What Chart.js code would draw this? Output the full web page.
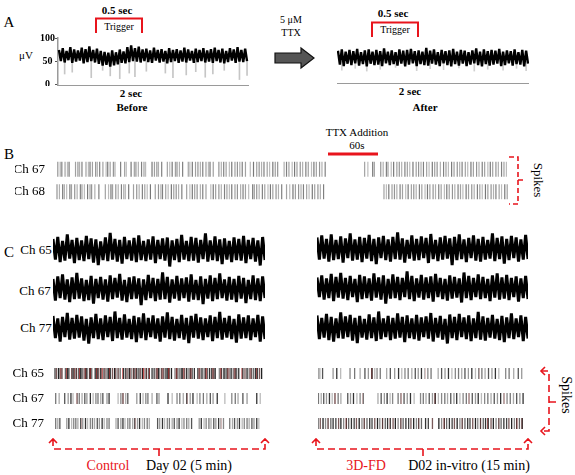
<!DOCTYPE html>
<html>
<head>
<meta charset="utf-8">
<script src="https://cdn.jsdelivr.net/npm/chart.js@4"></script>
<style>
  body { margin:0; width:575px; height:475px; background:#fff; position:relative; overflow:hidden;
         font-family:"Liberation Serif","Times New Roman",serif; color:#000; }
  .box { position:absolute; }
  .t { position:absolute; line-height:1; white-space:nowrap; transform:translate(-50%,-50%); }
  .b { font-weight:bold; }
  .red { color:#e8141c; }
  .rot { transform:translate(-50%,-50%) rotate(90deg); }
  svg { position:absolute; left:0; top:0; z-index:5; }
</style>
</head>
<body>

<!-- text -->
<div class="t" style="left:9px;top:22px;font-size:15px">A</div>
<div class="t b" style="left:117px;top:10px;font-size:11px">0.5 sec</div>
<div class="t" style="left:119px;top:27px;font-size:10px">Trigger</div>
<div class="t" style="left:26px;top:55px;font-size:11px">μV</div>
<div class="t b" style="left:131px;top:93px;font-size:11px">2 sec</div>
<div class="t b" style="left:132px;top:107px;font-size:11px">Before</div>
<div class="t" style="left:291px;top:20px;font-size:10px">5 μM</div>
<div class="t" style="left:291px;top:33px;font-size:10px">TTX</div>
<div class="t b" style="left:393px;top:13px;font-size:11px">0.5 sec</div>
<div class="t" style="left:395px;top:30px;font-size:10px">Trigger</div>
<div class="t b" style="left:410px;top:91px;font-size:11px">2 sec</div>
<div class="t b" style="left:425px;top:107px;font-size:11px">After</div>

<div class="t" style="left:9px;top:154px;font-size:15px">B</div>
<div class="t" style="left:357px;top:132px;font-size:11px">TTX Addition</div>
<div class="t" style="left:357px;top:145px;font-size:11px">60s</div>
<div class="t rot" style="left:538px;top:180px;font-size:13px">Spikes</div>

<div class="t" style="left:9px;top:252px;font-size:15px">C</div>
<div class="t" style="left:36px;top:249px;font-size:13px">Ch 65</div>
<div class="t" style="left:35px;top:290px;font-size:13px">Ch 67</div>
<div class="t" style="left:36px;top:327px;font-size:13px">Ch 77</div>
<div class="t rot" style="left:566px;top:395px;font-size:14px">Spikes</div>

<div class="t red" style="left:108px;top:466px;font-size:14px">Control</div>
<div class="t" style="left:189px;top:466px;font-size:14px">Day 02 (5 min)</div>
<div class="t red" style="left:366px;top:466px;font-size:14px">3D-FD</div>
<div class="t" style="left:469px;top:466px;font-size:14px">D02 in-vitro (15 min)</div>

<!-- brackets, arrow -->
<svg width="575" height="475">
  <path d="M96,33 V18.5 H142 V33" fill="none" stroke="#e8141c" stroke-width="2"/>
  <path d="M372,37 V22.5 H418 V37" fill="none" stroke="#e8141c" stroke-width="2"/>
  <polygon points="275,53 301,53 301,48 314,58 301,68 301,63 275,63" fill="#555" stroke="#111" stroke-width="1.2"/>
  <line x1="328" y1="154" x2="378" y2="154" stroke="#e8141c" stroke-width="3"/>
  <g fill="none" stroke="#e8141c" stroke-width="1.6">
    <path d="M509,157 H518 V204 H509 M518,180 H524" stroke-dasharray="5,3"/>
    <!-- C bottom left -->
    <path d="M49,443 L53,439 L57,443 M261,443 L265,439 L269,443"/>
    <path d="M53,439 V449 H265 V439 M159,449 V456" stroke-dasharray="7,4"/>
    <!-- C bottom right -->
    <path d="M312,443 L316,439 L320,443 M524,443 L528,439 L532,443"/>
    <path d="M316,439 V449 H528 V439 M423,449 V456" stroke-dasharray="7,4"/>
    <!-- C right vertical -->
    <path d="M545,367 L541,371 L545,375 M545,427 L541,431 L545,435"/>
    <path d="M541,371 H549 V431 H541 M549,402 H556" stroke-dasharray="7,4"/>
  </g>
</svg>

<script>
// ====================== DATA ======================
// Panel A: 2 s recordings (uV), zigzag noise samples read from the band
const aTicks = [0, 50, 100];
const aBefore = [
  74,50,78,47,72,52,80,46,75,49,
  73,51,79,45,76,48,82,50,74,47,
  77,44,72,40,70,42,68,38,73,41,
  69,43,75,46,71,45,80,48,84,50,
  78,49,81,47,75,50,77,48,73,46,
  79,51,74,47,76,49,72,45,78,48,
  74,50,76,46,73,49,79,47,75,51,
  72,46,77,48,74,50,78,47,73,49,
  76,46,79,50,74,47,77,45,72,48,
  78,51,75,46,80,49,74,48,77,50
];
const aBeforeDropIdx = [3,7,17,23,27,32,37,40,46,56,60,67,72,77,81,87,95,99];
const aBeforeDropLow = [22,26,14,30,18,12,24,16,28,24,14,20,27,15,22,30,10,19];

const aAfter = [
  68,38,71,35,66,40,70,37,67,41,
  72,36,65,39,69,34,71,40,66,37,
  70,38,67,35,73,41,66,37,69,39,
  65,36,71,40,68,34,70,38,72,41,
  67,35,69,39,66,37,74,36,68,40,
  71,38,65,35,70,41,67,37,69,34,
  72,39,66,36,70,40,68,35,65,38,
  69,41,73,37,66,34,71,39,67,36,
  70,38,68,40,72,35,66,37,69,41,
  67,36,71,39,65,38,70,34,68,40
];
const aAfterDropIdx = [2,9,15,22,30,41,48,55,63,71,78,86,93,98];
const aAfterDropLow = [26,30,24,28,32,25,29,27,31,24,28,26,30,25];

// Panel B: spike times (s), TTX added around 335-400 s
const bRows = ["Ch 67", "Ch 68"];
const b67 = [1,4,6,10,13,15,23,26,28,31,36,39,41,44,48,50,53,57,61,63,66,70,72,79,84,86,92,96,98,101,
  105,108,110,118,121,124,126,130,137,140,143,147,149,152,156,163,165,168,172,175,178,181,185,188,190,
  194,201,204,207,210,214,217,221,224,227,230,234,240,244,248,251,254,257,261,264,268,271,274,282,285,
  288,292,295,298,302,305,309,312,316,319,322,326,329,333,
  382,386,392,394,
  402,405,409,411,415,418,422,425,428,432,435,438,442,446,449,452,455,459,462,466,469,472,476,480,483,
  486,490,493,497,500,503,507,510,514,517,521,524,528,531,535,538,541,545,548,552,555,558];
const b68 = [0,3,7,9,12,16,18,22,25,29,31,34,38,41,43,47,52,60,64,67,69,73,76,80,83,85,89,95,99,102,
  106,109,112,116,122,126,129,131,135,138,142,145,148,151,155,161,165,168,171,174,178,181,185,191,194,
  197,201,204,208,211,214,217,221,224,228,231,234,238,243,245,248,251,255,258,262,265,268,272,275,279,
  285,289,293,296,300,303,306,310,313,317,320,324,327,331,
  406,409,412,416,419,422,426,429,433,436,440,443,446,450,453,457,460,463,467,470,474,477,481,484,487,
  491,494,498,501,504,508,511,515,518,522,525,528,532,535,539,542,545,549,552,556,559];

// Panel C: raw traces (uV)
const c65L = [
  22,-19,26,-24,18,-21,31,-17,20,-26, 24,-20,19,-22,28,-18,23,-25,21,-30,
  17,-20,25,-22,34,-19,22,-23,20,-27, 26,-18,19,-21,24,-24,29,-20,18,-22,
  21,-19,27,-26,20,-18,23,-21,25,-33, 19,-20,22,-24,30,-19,18,-22,26,-21,
  24,-25,20,-18,33,-23,19,-20,27,-22, 21,-28,23,-19,18,-24,25,-20,22,-21,
  28,-26,20,-18,24,-23,19,-31,26,-20];
const c67L = [
  20,-23,25,-18,29,-21,19,-26,23,-20, 32,-19,21,-24,18,-22,26,-29,20,-18,
  24,-21,19,-25,27,-20,22,-17,30,-23, 18,-26,23,-20,25,-19,21,-32,19,-22,
  28,-18,22,-24,20,-21,33,-20,24,-27, 19,-19,26,-23,21,-18,23,-25,29,-21,
  18,-22,25,-30,20,-19,27,-24,22,-20, 31,-18,19,-23,24,-21,20,-26,26,-19,
  22,-28,18,-20,27,-22,21,-24,25,-18];
const c77L = [
  24,-20,19,-27,22,-18,30,-23,20,-21, 26,-19,23,-25,18,-31,21,-20,28,-22,
  19,-24,25,-18,22,-26,33,-20,20,-23, 27,-19,18,-22,24,-28,21,-20,29,-24,
  20,-18,25,-21,19,-27,23,-19,31,-22, 22,-25,18,-20,26,-23,20,-30,24,-19,
  28,-21,21,-24,19,-18,25,-26,22,-20, 32,-23,20,-19,24,-22,18,-29,27,-21,
  21,-20,25,-24,19,-18,26,-27,23,-22];
const c65R = [
  23,-21,27,-19,20,-25,29,-22,18,-20, 25,-27,21,-18,31,-23,19,-21,24,-26,
  22,-19,28,-24,20,-30,23,-18,26,-22, 19,-25,24,-20,33,-21,21,-27,18,-19,
  27,-23,20,-22,25,-18,22,-28,30,-20, 18,-24,23,-21,26,-19,21,-32,24,-22,
  29,-20,19,-26,22,-18,27,-23,20,-25, 24,-21,18,-19,31,-24,22,-20,25,-29,
  20,-22,26,-18,23,-25,19,-21,28,-20];
const c67R = [
  21,-18,25,-23,19,-20,28,-26,22,-19, 30,-21,20,-24,24,-18,18,-28,26,-22,
  23,-20,19,-25,29,-19,21,-23,25,-31, 18,-21,27,-20,22,-24,20,-18,33,-22,
  24,-26,19,-19,26,-23,21,-20,23,-27, 28,-18,20,-22,18,-25,25,-21,22,-19,
  19,-29,31,-20,24,-24,20,-18,27,-22, 22,-20,18,-26,25,-19,29,-23,21,-21,
  26,-24,20,-18,23,-27,19,-20,24,-22];
const c77R = [
  25,-22,20,-19,28,-24,22,-27,19,-20, 31,-21,23,-18,26,-25,20,-30,24,-19,
  18,-23,27,-20,21,-26,33,-22,19,-18, 24,-24,20,-21,29,-19,22,-28,25,-20,
  19,-22,26,-25,21,-18,23,-21,30,-27, 20,-19,24,-23,18,-31,27,-20,22,-24,
  28,-18,21,-22,25,-26,19,-20,32,-23, 23,-25,20,-19,26,-21,18,-24,24,-28,
  21,-20,29,-22,19,-18,25,-26,22,-21];

// Panel C: spike times (s); control 5 min, 3D-FD 15 min
const cRows = ["Ch 65", "Ch 67", "Ch 77"];
const s65L = [0,2,5,7,10,15,18,20,24,26,29,31,34,37,39,42,45,47,50,53,58,61,63,66,70,72,75,77,80,83,
  86,88,91,94,99,102,104,107,110,113,115,118,121,123,126,130,132,135,140,143,146,149,151,154,157,160,
  162,165,168,173,176,179,182,184,187,190,193,195,198,201,206,209,212,215,217,220,223,226,229,231,237,
  240,243,245,248,251,254,257,260,262,265,271,274,277,280,283,286,289,292,295,298];
const s65LRed = [8,17,28,35,44,51,60,68,79,87,98,108,117,128,136,147,156,164,175,186,196,208,218,228,
  238,249,258,270,281,290];
const s67L = [1,6,14,19,23,26,32,35,39,43,46,51,55,59,62,66,69,75,78,91,95,98,102,105,118,123,127,131,
  134,140,147,150,163,169,176,180,185,190,195,199,205,209,214,219,224,228,234,245,255,260,264,271,277,
  291,296];
const s67LRed = [32,98,190];
const s77L = [1,4,7,17,20,24,27,30,33,37,40,44,47,51,54,57,61,64,68,71,75,78,88,91,95,98,101,105,108,
  112,115,119,122,126,129,133,136,148,151,155,158,162,165,169,172,176,179,183,186,190,193,197,208,211,
  215,218,222,225,229,232,236,239,243,252,256,259,263,266,270,273,277,280,284,287,291,294];
const s77LRed = [37,115,239];
const s65R = [0,8,20,66,82,99,140,160,184,205,220,236,248,258,272,300,316,335,352,366,380,394,410,425,
  438,452,466,480,494,525,540,555,570,585,600,614,628,642,657,672,688,702,716,730,745,760,775,790,820,
  835,855,875,890];
const s65RRed = [235,466,702];
const s67R = [2,14,25,37,50,62,74,88,100,130,142,155,170,184,198,262,276,290,302,315,326,350,362,376,
  390,404,420,448,460,472,486,500,512,526,540,554,566,580,594,606,620,634,648,660,674,688,700,714,728,
  742,756,770,784,798,812,826,840,854,868,882,896];
const s67RRed = [74,198,362,512,660,812];
const s77R = [0,10,22,33,44,56,66,78,90,100,112,124,134,146,158,168,180,192,202,214,226,236,248,260,
  270,282,294,304,316,328,338,350,362,372,384,396,406,418,430,440,452,470,482,500,528,540,552,562,574,
  586,596,608,620,630,642,654,664,676,688,698,710,722,732,744,756,766,778,790,800,812,824,834,846,858,
  868,880,892];
const s77RRed = [124,316,552,742,868,892];

// ====================== SETUP ======================
Chart.defaults.font.family = '"Liberation Serif", "Times New Roman", serif';
Chart.defaults.color = "#000";
Chart.defaults.animation = false;
Chart.defaults.events = [];
Chart.defaults.maintainAspectRatio = false;
Chart.defaults.layout.autoPadding = false;
Chart.defaults.plugins.legend.display = false;
Chart.defaults.plugins.tooltip.enabled = false;

function addBox(left, top, w, h) {
  let d = document.createElement("div");
  d.className = "box";
  d.style.cssText = `left:${left}px;top:${top}px;width:${w}px;height:${h}px`;
  let c = document.createElement("canvas");
  d.appendChild(c);
  document.body.appendChild(d);
  return c;
}

function dropBars(n, idx, low, top) {
  let d = new Array(n).fill(null);
  idx.forEach((k, j) => { d[k] = [low[j], top]; });
  return d;
}

// fixed axis width, and no extra label padding eating the plot height
function fixWidth(w) {
  return s => { s.width = w; s.paddingTop = 0; s.paddingBottom = 0; };
}

const noAxis = { display: false };
const borderOnlyX = {
  grid: { display: false }, ticks: { display: false },
  border: { color: "#9a9a9a", width: 1.5 },
  afterFit: s => { s.height = 0; }
};

// ====================== PANEL A ======================
new Chart(addBox(18, 30, 234, 56), {
  type: "line",
  data: {
    labels: aBefore.map((_, i) => i),
    datasets: [
      { data: aBefore, borderColor: "#000", borderWidth: 2.4, borderJoinStyle: "bevel", pointRadius: 0, order: 0 },
      { type: "bar", data: dropBars(aBefore.length, aBeforeDropIdx, aBeforeDropLow, 50),
        backgroundColor: "#c6c6c6", barThickness: 1, grouped: false, order: 1 }
    ]
  },
  options: {
    layout: { padding: { top: 8, right: 4 } },
    scales: {
      x: borderOnlyX,
      y: {
        min: -4, max: 100,
        afterFit: fixWidth(40),
        afterBuildTicks: s => { s.ticks = aTicks.map(v => ({ value: v })); },
        ticks: { font: { size: 10, weight: "bold" }, padding: 0, crossAlign: "center" },
        grid: { drawOnChartArea: false, tickLength: 3, color: "#555" },
        border: { color: "#9a9a9a", width: 1.5 }
      }
    }
  }
});

new Chart(addBox(337, 36, 192, 48), {
  type: "line",
  data: {
    labels: aAfter.map((_, i) => i),
    datasets: [
      { data: aAfter, borderColor: "#000", borderWidth: 2.4, borderJoinStyle: "bevel", pointRadius: 0, order: 0 },
      { type: "bar", data: dropBars(aAfter.length, aAfterDropIdx, aAfterDropLow, 45),
        backgroundColor: "#d0d0d0", barThickness: 1, grouped: false, order: 1 }
    ]
  },
  options: {
    scales: { x: borderOnlyX, y: { display: false, min: -4, max: 100 } }
  }
});

// ====================== RASTERS ======================
const grayShades = ["#949494", "#b0b0b0", "#808080", "#a2a2a2", "#bcbcbc", "#787878", "#a0a0a0"];
const darkShades = ["#444", "#7a5a5a", "#222", "#8a8a8a", "#5a3a3a", "#666", "#333"];
const midShades = ["#777", "#aaa", "#555", "#999", "#333", "#bbb", "#888"];
const redShades = ["#b03030", "#c04848", "#902020"];

function spikeSet(times, row, shades, half, width) {
  return {
    data: times.map(t => ({ x: t, y: row })),
    pointStyle: "line", pointRotation: 90, pointRadius: half,
    pointBorderWidth: width,
    pointBorderColor: c => shades[c.dataIndex % shades.length],
    clip: false
  };
}

function rasterOpts(xmax, rows, showLabels, labelWidth, pad) {
  return {
    scales: {
      x: { display: false, min: 0, max: xmax },
      y: {
        type: "category", labels: rows, offset: true, display: showLabels,
        grid: { display: false }, border: { display: false },
        ticks: { font: { size: 13 }, padding: pad, autoSkip: false },
        afterFit: fixWidth(labelWidth)
      }
    }
  };
}

new Chart(addBox(15, 158, 493, 45), {
  type: "scatter",
  data: {
    datasets: [
      spikeSet(b67, "Ch 67", grayShades, 7.5, 1.2),
      spikeSet(b68, "Ch 68", grayShades, 7.5, 1.2)
    ]
  },
  options: rasterOpts(560, bRows, true, 42, 4)
});

new Chart(addBox(12, 361, 251, 75), {
  type: "scatter",
  data: {
    datasets: [
      spikeSet(s65L, "Ch 65", darkShades, 5.5, 1.3),
      spikeSet(s67L, "Ch 67", midShades, 5.5, 1.3),
      spikeSet(s77L, "Ch 77", midShades, 5.5, 1.3),
      spikeSet(s65LRed, "Ch 65", redShades, 5.5, 1.4),
      spikeSet(s67LRed, "Ch 67", redShades, 5.5, 1.2),
      spikeSet(s77LRed, "Ch 77", redShades, 5.5, 1.2)
    ]
  },
  options: rasterOpts(300, cRows, true, 43, 3)
});

new Chart(addBox(318, 361, 206, 75), {
  type: "scatter",
  data: {
    datasets: [
      spikeSet(s65R, "Ch 65", midShades, 5.5, 1.3),
      spikeSet(s67R, "Ch 67", midShades, 5.5, 1.3),
      spikeSet(s77R, "Ch 77", darkShades, 5.5, 1.3),
      spikeSet(s65RRed, "Ch 65", redShades, 5.5, 1.2),
      spikeSet(s67RRed, "Ch 67", redShades, 5.5, 1.2),
      spikeSet(s77RRed, "Ch 77", redShades, 5.5, 1.2)
    ]
  },
  options: rasterOpts(900, cRows, false, 0, 0)
});

// ====================== PANEL C TRACES ======================
function traceChart(left, center, w, values) {
  new Chart(addBox(left, center - 20, w, 40), {
    type: "line",
    data: {
      labels: values.map((_, i) => i),
      datasets: [{ data: values, borderColor: "#000", borderWidth: 3, borderJoinStyle: "bevel", pointRadius: 0 }]
    },
    options: { scales: { x: noAxis, y: { display: false, min: -40, max: 40 } } }
  });
}

traceChart(53, 250, 212, c65L);
traceChart(53, 289, 212, c67L);
traceChart(53, 328, 212, c77L);
traceChart(317, 249, 211, c65R);
traceChart(317, 288, 211, c67R);
traceChart(317, 328, 211, c77R);
</script>
</body>
</html>
